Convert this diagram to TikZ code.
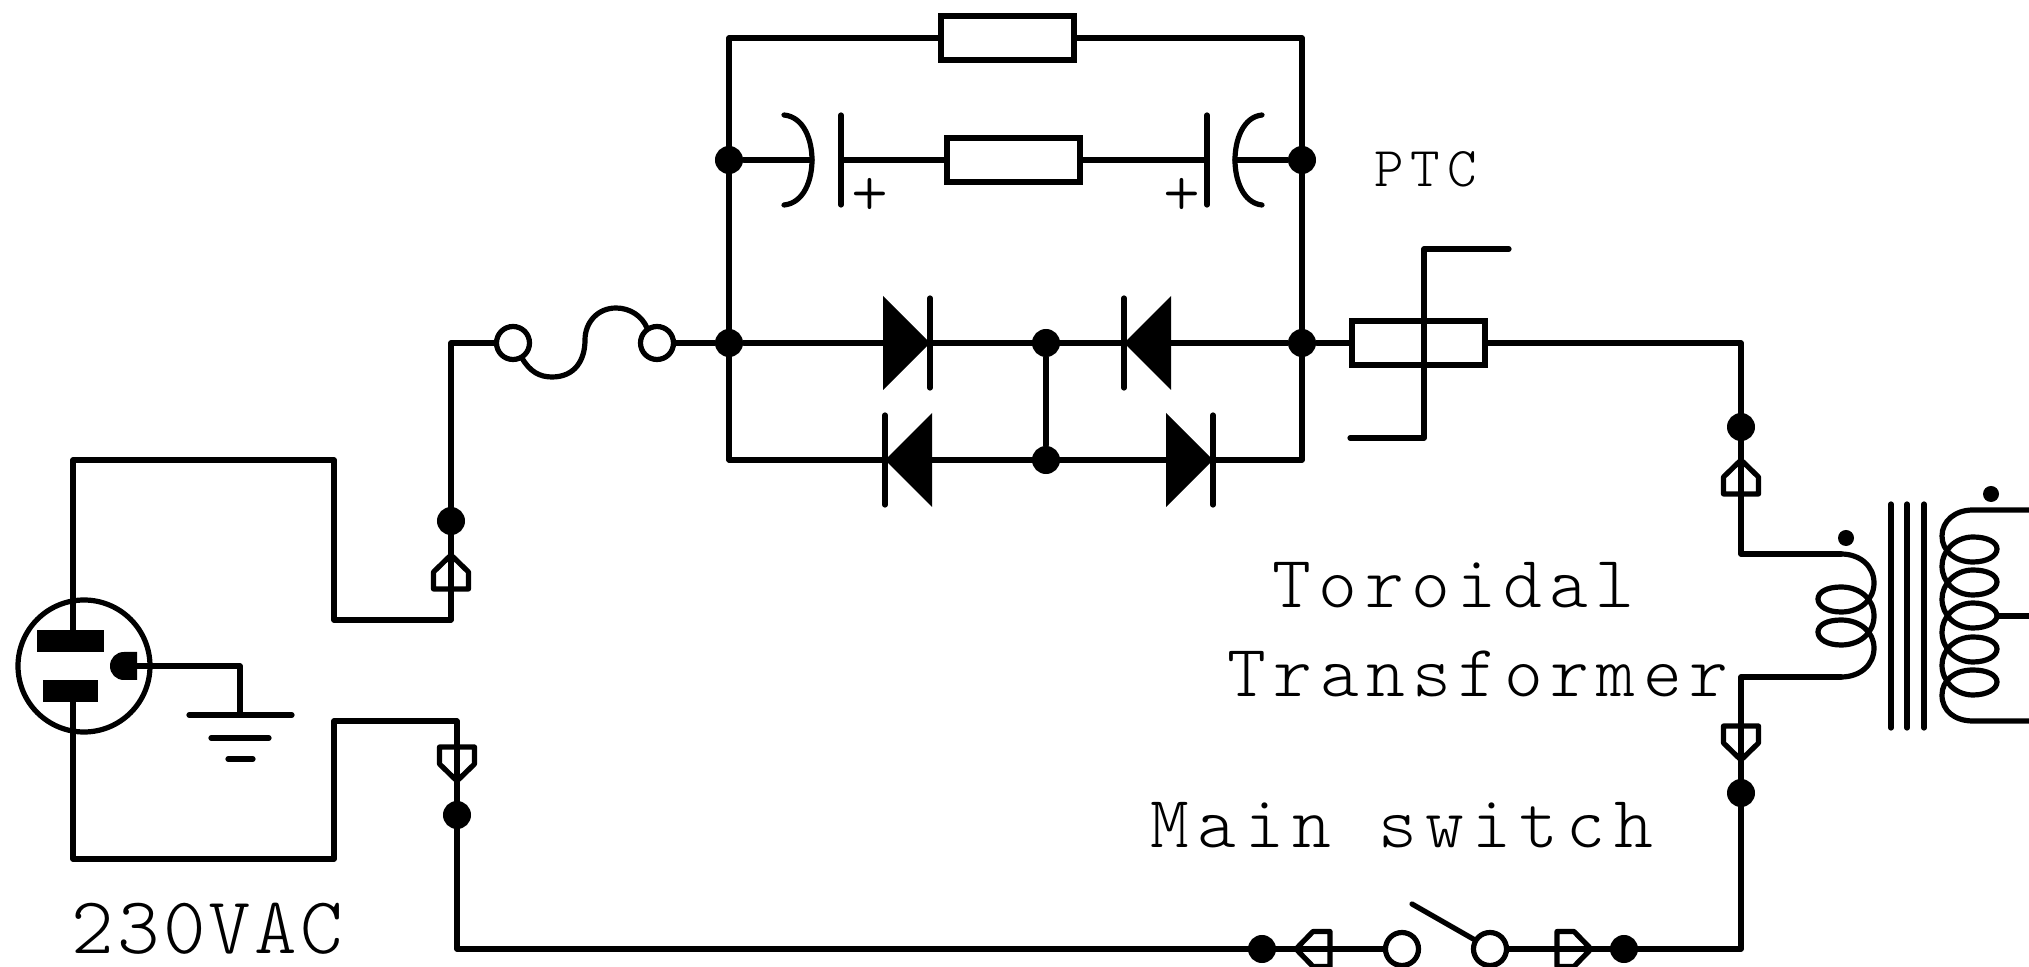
\documentclass[tikz,border=0pt]{standalone}
\usepackage{fontspec}
\newfontfamily\lbl{Latin Modern Mono Light}[LetterSpace=10]
\newfontfamily\lblA{Latin Modern Mono Light}[LetterSpace=4]
\newfontfamily\lblB{Latin Modern Mono Light}[LetterSpace=11.4]
\newfontfamily\lblC{Latin Modern Mono Light}[LetterSpace=12]
\usetikzlibrary{calc}
\tikzset{
  x=0.01cm,y=-0.01cm,
  wire/.style={line width=0.052cm,line cap=round,line join=round},
  jdot/.style={circle,fill=black,inner sep=0pt,minimum size=0.28cm},
  smalldot/.style={circle,fill=black,inner sep=0pt,minimum size=0.16cm},
  term/.style={circle,draw=black,fill=white,line width=0.052cm,inner sep=0pt,minimum size=0.33cm},
  res/.style={rectangle,draw=black,fill=white,line width=0.052cm,inner sep=0pt,minimum width=1.33cm,minimum height=0.44cm},
  biglabel/.style={inner sep=0pt,font=\lbl\fontsize{21}{25}\selectfont},
  plusmark/.style={inner sep=0pt,font=\lbl\fontsize{20}{24}\selectfont},
  conn/.pic={\draw[wire] (0,0)--(17.5,17)--(17.5,34)--(-17.5,34)--(-17.5,17)--cycle;},
  connh/.pic={\draw[wire] (0,0)--(17,17.5)--(34,17.5)--(34,-17.5)--(17,-17.5)--cycle;},
  diode/.pic={\fill[black] (-47,-47)--(0,0)--(-47,47)--cycle;\draw[wire] (0,-45)--(0,45);}
}
\begin{document}
\begin{tikzpicture}
\useasboundingbox (0,0) rectangle (2029,967);
% junctions
\node[jdot] (jL) at (451,521) {};
\node[jdot] (jLb) at (457,815) {};
\node[jdot] (a1) at (729,160) {};
\node[jdot] (a2) at (1302,160) {};
\node[jdot] (b1) at (729,343) {};
\node[jdot] (b2) at (1046,343) {};
\node[jdot] (b3) at (1302,343) {};
\node[jdot] (c2) at (1046,460) {};
\node[jdot] (jR) at (1741,427) {};
\node[jdot] (jRb) at (1741,793) {};
\node[jdot] (s1) at (1262,949) {};
\node[jdot] (s2) at (1624,949) {};
% plug
\coordinate (p1) at (73,630); \coordinate (p1a) at (73,460); \coordinate (p1b) at (334,460);
\coordinate (p1c) at (334,620); \coordinate (p1d) at (451,620);
\coordinate (p2) at (73,702); \coordinate (p2a) at (73,859); \coordinate (p2b) at (334,859);
\coordinate (p2c) at (334,721); \coordinate (p2d) at (457,721);
\coordinate (gp) at (137,666); \coordinate (gc) at (240,666); \coordinate (gt) at (240,715);
\draw[wire] (84,666) circle (66);
\fill (37,630) rectangle (104,652);
\fill (43,680) rectangle (98,702);
\fill (137,652) -- (124,652) .. controls (116,652) and (110,658) .. (110,666) .. controls (110,674) and (116,680) .. (124,680) -- (137,680) -- cycle;
\draw[wire] (p1) -- (p1a) -- (p1b) -- (p1c) -- (p1d);
\draw[wire] (p2) -- (p2a) -- (p2b) -- (p2c) -- (p2d);
\draw[wire] (gp) -- (gc) -- (gt);
\draw[wire] (189,715) -- (292,715);
\draw[wire] (211,738) -- (269,738);
\draw[wire] (228,759) -- (253,759);
% coordinates
\coordinate (tl) at (729,38); \coordinate (tr) at (1302,38);
\coordinate (bl) at (729,460); \coordinate (br) at (1302,460);
\coordinate (fw) at (451,343);
\coordinate (corner) at (1741,343);
\coordinate (pt) at (1741,554); \coordinate (pb) at (1741,677);
\coordinate (pr1) at (1841,554); \coordinate (pr2) at (1841,677);
\coordinate (br1) at (1741,949); \coordinate (bl1) at (457,949);
% terminals and resistors
\node[term] (f1) at (513,343) {};
\node[term] (f2) at (657,343) {};
\node[term] (sw1) at (1402,949) {};
\node[term] (sw2) at (1490,949) {};
\node[res] (r1) at (1007.5,38) {};
\node[res] (r2) at (1013.5,160) {};
\node[res] (ptc) at (1418.5,343) {};
% wires
\draw[wire] (p1d) -- (fw) -- (f1);
\draw[wire] (f2) -- (b1) -- (b3) -- (ptc);
\draw[wire] (ptc) -- (corner) -- (pt) -- (pr1);
\draw[wire] (p2d) -- (bl1) -- (sw1);
\draw[wire] (sw2) -- (br1) -- (pb) -- (pr2);
\draw[wire] (bl) -- (tl) -- (r1);
\draw[wire] (r1) -- (tr) -- (br) -- (bl);
\draw[wire] (b2) -- (c2);
% caps row
\draw[wire] (a1) -- (812,160);
\draw[wire] (841,160) -- (r2.west);
\draw[wire] (r2.east) -- (1207,160);
\draw[wire] (1235,160) -- (a2);
\draw[wire] (841,115) -- (841,205);
\draw[wire] (1207,115) -- (1207,205);
\draw[wire] (784,115) .. controls (804,117) and (812,140) .. (812,160) .. controls (812,180) and (804,203) .. (784,205);
\draw[wire] (1262,115) .. controls (1243,117) and (1235,140) .. (1235,160) .. controls (1235,180) and (1243,203) .. (1262,205);
\node[plusmark] (plus1) at (870,197) {+};
\node[plusmark] (plus2) at (1182,197) {+};
% diodes
\pic at (930,343) {diode};
\pic[xscale=-1] at (1124,343) {diode};
\pic[xscale=-1] at (885,460) {diode};
\pic at (1213,460) {diode};
% fuse
\draw[wire] (522,358) .. controls (530,372) and (540,377) .. (552,377) .. controls (575,377) and (585,360) .. (585,340) .. controls (585,322) and (598,308) .. (616,308) .. controls (630,308) and (642,316) .. (647,328);
% ptc stub
\draw[wire] (1509,249) -- (1424,249) -- (1424,438) -- (1350,438);
% connectors
\pic at (451,555) {conn};
\pic[yscale=-1] at (457,781) {conn};
\pic at (1741,460) {conn};
\pic[yscale=-1] at (1741,760) {conn};
\pic at (1296,949) {connh};
\pic[xscale=-1] at (1591,949) {connh};
% switch
\coordinate (lever) at (1412,904);
\draw[wire] (lever) -- (1475,940);
% core
\draw[wire] (1891,504) -- (1891,728);
\draw[wire] (1907,504) -- (1907,728);
\draw[wire] (1924,504) -- (1924,728);
\node[smalldot] (dp) at (1846,538) {};
\node[smalldot] (ds) at (1991,494) {};
% primary
\draw[wire] (pr1) .. controls (1860,554) and (1874,566) .. (1874,583)
 .. controls (1874,600) and (1860,612) .. (1841,612)
 .. controls (1827,612) and (1818,606) .. (1818,599)
 .. controls (1818,592) and (1827,587) .. (1841,587)
 .. controls (1860,587) and (1874,599) .. (1874,616)
 .. controls (1874,633) and (1860,645) .. (1841,645)
 .. controls (1827,645) and (1818,639) .. (1818,632)
 .. controls (1818,625) and (1827,620) .. (1841,620)
 .. controls (1860,620) and (1874,632) .. (1874,648)
 .. controls (1874,665) and (1860,677) .. (pr2);
% secondary
\draw[wire] (2029,510) -- (1973,510)
 .. controls (1955,510) and (1942,521) .. (1942,536)
 .. controls (1942,551) and (1955,562) .. (1973,562)
 .. controls (1987,562) and (1997,556) .. (1997,549)
 .. controls (1997,542) and (1987,537) .. (1973,537)
 .. controls (1955,537) and (1942,551) .. (1942,566)
 .. controls (1942,582) and (1955,595) .. (1973,595)
 .. controls (1987,595) and (1997,589) .. (1997,582)
 .. controls (1997,575) and (1987,570) .. (1973,570)
 .. controls (1955,570) and (1942,584) .. (1942,599)
 .. controls (1942,615) and (1955,628) .. (1973,628)
 .. controls (1987,628) and (1997,622) .. (1997,616)
 .. controls (1997,609) and (1987,603) .. (1973,603)
 .. controls (1955,603) and (1942,617) .. (1942,632)
 .. controls (1942,648) and (1955,662) .. (1973,662)
 .. controls (1987,662) and (1997,656) .. (1997,649)
 .. controls (1997,642) and (1987,637) .. (1973,637)
 .. controls (1955,637) and (1942,650) .. (1942,665)
 .. controls (1942,681) and (1955,695) .. (1973,695)
 .. controls (1987,695) and (1997,689) .. (1997,682)
 .. controls (1997,675) and (1987,670) .. (1973,670)
 .. controls (1955,670) and (1942,680) .. (1942,695)
 .. controls (1942,711) and (1955,721) .. (1973,721) -- (2029,721);
\draw[wire] (1997,616) -- (2029,616);
% labels
\node[inner sep=0pt,anchor=base west,font=\lblA\fontsize{23}{27}\selectfont] (t230) at (71,953) {230VAC};
\node[inner sep=0pt,anchor=base west,font=\lblB\fontsize{21}{25}\selectfont] (tms) at (1150,847) {Main switch};
\node[biglabel,anchor=base west] (ttr) at (1227,697) {Transformer};
\node[biglabel,anchor=base west] (tto) at (1272,608) {Toroidal};
\node[inner sep=0pt,anchor=base west,font=\lblC\fontsize{16}{19}\selectfont] (tptc) at (1374,187) {PTC};
\end{tikzpicture}
\end{document}
